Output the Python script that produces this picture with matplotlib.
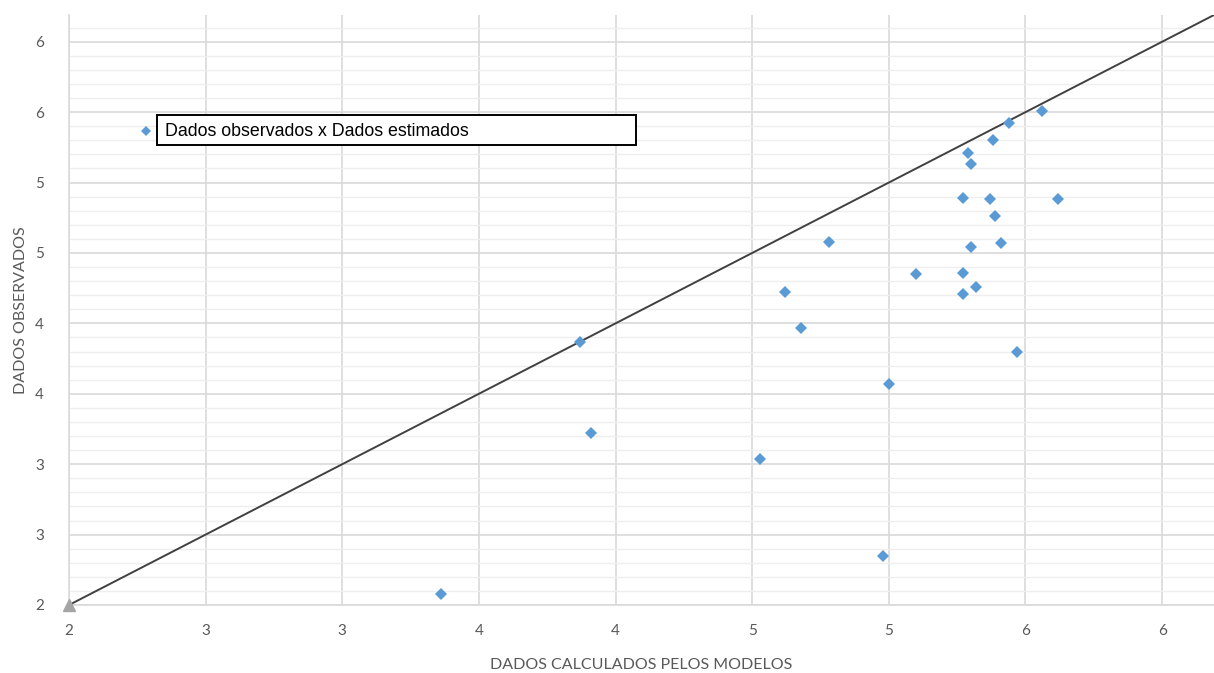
import matplotlib
matplotlib.use('Agg')
from matplotlib import pyplot as plt
from matplotlib.ticker import MultipleLocator

estimados = [3.36, 3.87, 3.91, 4.53, 4.62, 4.68, 4.78, 4.98, 5.00, 5.10,
             5.27, 5.27, 5.27, 5.29, 5.30, 5.30, 5.32, 5.37, 5.38, 5.39,
             5.41, 5.44, 5.47, 5.56, 5.62]
observados = [2.08, 3.87, 3.22, 3.04, 4.22, 3.97, 4.58, 2.35, 3.57, 4.35,
              4.89, 4.21, 4.36, 5.21, 5.13, 4.54, 4.26, 4.88, 5.30, 4.76,
              4.57, 5.42, 3.80, 5.51, 4.88]

# 1:1 reference line
linha_x = [2, 6.2]
linha_y = [2, 6.2]

tick_vals = [2, 2.5, 3, 3.5, 4, 4.5, 5, 5.5, 6]
tick_labels = ['2', '3', '3', '4', '4', '5', '5', '6', '6']

legenda = 'Dados observados x Dados estimados'
azul = '#5b9bd5'
cinza_txt = '#595959'

fig = plt.figure(figsize=(12.14, 6.73), dpi=100)
ax = fig.add_axes([69 / 1214, 68 / 673, 1145 / 1214, 590 / 673])

ax.set_xlim(2, 6.19)
ax.set_ylim(2, 6.19)

# grid like Excel: major both ways, minor horizontal only
ax.set_xticks(tick_vals)
ax.set_xticklabels(tick_labels)
ax.set_yticks(tick_vals)
ax.set_yticklabels(tick_labels)
ax.yaxis.set_minor_locator(MultipleLocator(0.1))
ax.grid(which='major', color='#d9d9d9', linewidth=1.2)
ax.grid(which='minor', axis='y', color='#eeeeee', linewidth=1.0)
ax.set_axisbelow(True)
ax.tick_params(which='both', length=0)
ax.tick_params(axis='both', labelsize=11, labelcolor=cinza_txt)
ax.tick_params(axis='x', pad=14)
ax.tick_params(axis='y', pad=18)
for lab in ax.get_xticklabels() + ax.get_yticklabels():
    lab.set_family('Lato')
for s in ['top', 'right']:
    ax.spines[s].set_visible(False)
for s in ['left', 'bottom']:
    ax.spines[s].set_color('#d9d9d9')
    ax.spines[s].set_linewidth(1.2)

ax.plot(linha_x, linha_y, color='#404040', linewidth=1.4, zorder=3)
ax.plot([linha_x[0]], [linha_y[0]], marker='^', color='#a5a5a5',
        markersize=8, clip_on=False, zorder=4)

ax.plot(estimados, observados, linestyle='none', marker='D', markersize=6.5,
        color=azul, markeredgewidth=0, zorder=5)

ax.set_xlabel('DADOS CALCULADOS PELOS MODELOS', family='Lato', fontsize=11.5,
              color=cinza_txt, labelpad=14)
ax.set_ylabel('DADOS OBSERVADOS', family='Lato', fontsize=11.5,
              color=cinza_txt, labelpad=5)

# legend: marker outside a boxed label
ax.plot([(146 - 69) / 1145], [(605 - 131) / 590], marker='D', markersize=5.5,
        color=azul, markeredgewidth=0, transform=ax.transAxes, clip_on=False)
ax.text((165 - 69) / 1145, (605 - 131) / 590, legenda, transform=ax.transAxes,
        family='Liberation Sans', fontsize=12.8, color='black', va='center',
        ha='left', zorder=6)
ax.add_patch(plt.Rectangle(((157 - 69) / 1145, (605 - 145) / 590),
                           (636 - 157) / 1145, 30 / 590, transform=ax.transAxes,
                           facecolor='white', edgecolor='black', linewidth=1.4,
                           zorder=5.5))

fig.savefig('out.png', dpi=100, facecolor='white')
